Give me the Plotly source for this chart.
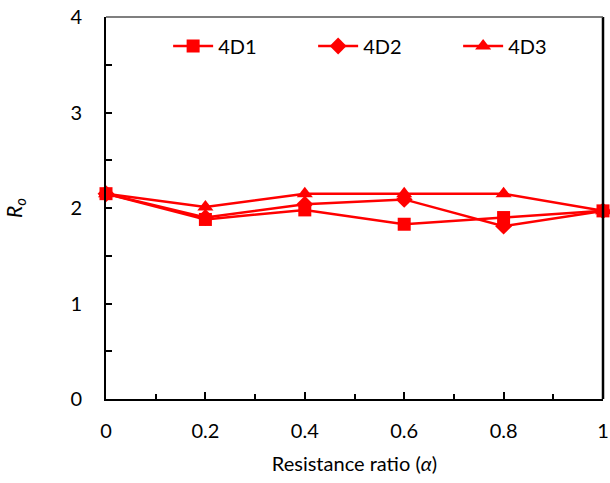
import plotly.graph_objects as go

# Resistance ratio values and R_o for each specimen
alpha = [0, 0.2, 0.4, 0.6, 0.8, 1.0]
r_4d1 = [2.15, 1.88, 1.98, 1.83, 1.90, 1.97]
r_4d2 = [2.15, 1.90, 2.04, 2.09, 1.81, 1.97]
r_4d3 = [2.15, 2.01, 2.15, 2.15, 2.15, 1.97]

series = [
    ("4D3", r_4d3, "triangle-up", 14, 3),
    ("4D2", r_4d2, "diamond", 13, 2),
    ("4D1", r_4d1, "square", 13, 1),
]

red = "#FF0000"
font_family = "Lato, 'Open Sans', sans-serif"

fig = go.Figure()
for name, vals, sym, size, rank in series:
    fig.add_trace(go.Scatter(
        x=alpha, y=vals, name=name, mode="lines+markers",
        line=dict(color=red, width=2.5),
        marker=dict(symbol=sym, size=size, color=red),
        cliponaxis=False, legendrank=rank,
    ))

axis_common = dict(
    showgrid=False, zeroline=False, showline=True, automargin=False,
    linecolor="black", linewidth=2, ticks="inside",
    tickcolor="black", tickwidth=1.5,
    tickfont=dict(size=20, color="black", family=font_family),
)

fig.update_xaxes(
    range=[0, 1], ticklen=7,
    tickvals=[0, 0.2, 0.4, 0.6, 0.8, 1.0],
    ticktext=["0", "0.2", "0.4", "0.6", "0.8", "1"],
    minor=dict(dtick=0.1, ticklen=5, ticks="inside", tickcolor="black", tickwidth=1.5),
    title=dict(text="Resistance ratio (<i>α</i>)", font=dict(size=20, color="black", family=font_family), standoff=16),
    ticklabelstandoff=13,
    mirror=False,
    **axis_common,
)
fig.update_yaxes(
    range=[0, 4], dtick=1, ticklen=6,
    minor=dict(dtick=0.5, ticklen=6, ticks="inside", tickcolor="black", tickwidth=1.5),
    title=dict(text="<i>R<sub>o</sub></i>", font=dict(size=21, color="black", family=font_family), standoff=42),
    ticklabelstandoff=18,
    **axis_common,
)

# Frame: dark right edge, light top edge
fig.add_shape(type="line", xref="paper", yref="paper", x0=1, x1=1, y0=0, y1=1,
              line=dict(color="black", width=2.5))
fig.add_shape(type="line", xref="paper", yref="paper", x0=0, x1=1, y0=1, y1=1,
              line=dict(color="#555555", width=1.5))

fig.update_layout(
    width=610, height=483,
    margin=dict(l=106, r=7, t=17, b=84, autoexpand=False),
    plot_bgcolor="white", paper_bgcolor="white",
    showlegend=True,
    legend=dict(
        orientation="h", x=0.125, y=0.975, xanchor="left", yanchor="top",
        font=dict(size=20, color="black", family=font_family),
        bgcolor="rgba(0,0,0,0)", itemwidth=40,
        entrywidth=90, entrywidthmode="pixels",
        traceorder="normal",
    ),
)

fig.write_html("out.html")
